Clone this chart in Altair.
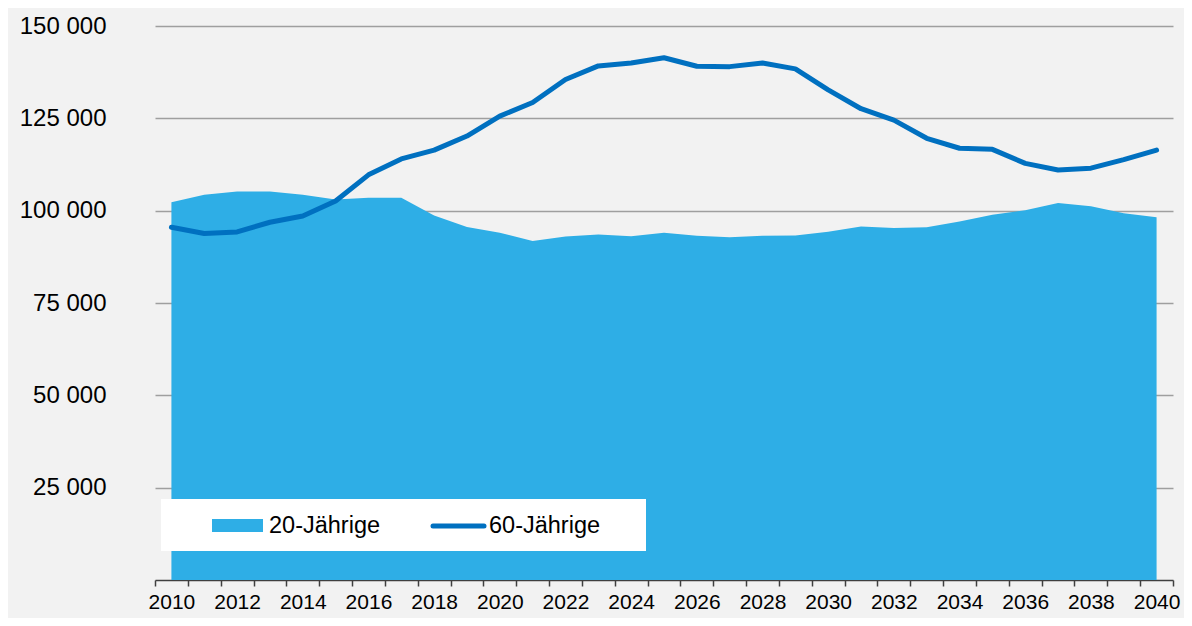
import altair as alt
import pandas as pd

years = list(range(2010, 2041))
age20 = [102300, 104300, 105200, 105200, 104300, 103000, 103500, 103500, 98700, 95600,
         94000, 91800, 93000, 93550, 93100, 94000, 93200, 92800, 93200, 93300,
         94300, 95700, 95300, 95500, 97100, 98900, 100100, 102100, 101200, 99300, 98200]
age60 = [95500, 93800, 94250, 96860, 98560, 102600, 109700, 114000, 116400, 120200,
         125600, 129300, 135500, 139200, 140000, 141400, 139100, 139000, 140000, 138400,
         132700, 127600, 124500, 119600, 116900, 116600, 112800, 111000, 111500, 113800, 116400]
series_names = ["20-Jährige", "60-Jährige"]
y_ticks = [25000, 50000, 75000, 100000, 125000, 150000]

df = pd.DataFrame({"year": years, "a20": age20, "a60": age60})

FONT = "Liberation Sans"
AREA_C = "#2eaee6"
LINE_C = "#0070c0"

W, H = 1018, 554

xscale = alt.Scale(domain=[2009.5, 2040.5], nice=False, zero=False)
yscale = alt.Scale(domain=[0, 150000], nice=False)

yaxis = alt.Axis(values=y_ticks, domain=False, ticks=False, grid=True,
                 gridColor="#9f9f9f", gridWidth=1.5, labelFont=FONT, labelFontSize=24,
                 labelColor="#000000", labelPadding=49, title=None,
                 labelExpr="replace(format(datum.value, ','), ',', ' ')")

area = alt.Chart(df).mark_area(color=AREA_C, opacity=1).encode(
    x=alt.X("year:Q", scale=xscale,
            axis=alt.Axis(values=[y - 0.5 for y in years] + [2040.5], labels=False,
                          ticks=True, tickSize=6, tickColor="#404040", tickWidth=1.5,
                          domain=True, domainColor="#404040", domainWidth=1.5,
                          grid=False, title=None, orient="bottom")),
    y=alt.Y("a20:Q", scale=yscale, axis=yaxis),
)

line = alt.Chart(df).mark_line(color=LINE_C, strokeWidth=5, strokeCap="round",
                               strokeJoin="round").encode(
    x=alt.X("year:Q", scale=xscale,
            axis=alt.Axis(values=[y for y in years if y % 2 == 0], ticks=False,
                          tickSize=0, domain=False, grid=False, labelFont=FONT,
                          labelFontSize=21, labelColor="#000000", labelPadding=11,
                          format="d", title=None, orient="bottom")),
    y=alt.Y("a60:Q", scale=yscale),
)

one = pd.DataFrame({"k": [0]})
LY = 473
leg_box = alt.Chart(one).mark_rect(color="white").encode(
    x=alt.value(6), x2=alt.value(491), y=alt.value(LY), y2=alt.value(LY + 52))
leg_sw = alt.Chart(one).mark_rect(color=AREA_C).encode(
    x=alt.value(57), x2=alt.value(108), y=alt.value(LY + 20), y2=alt.value(LY + 33))
leg_t1 = alt.Chart(one).mark_text(text=series_names[0], font=FONT, fontSize=23.5,
                                  align="left", baseline="middle", color="#000000").encode(
    x=alt.value(114), y=alt.value(LY + 27))
leg_ln = alt.Chart(one).mark_rule(color=LINE_C, strokeWidth=5, strokeCap="round").encode(
    x=alt.value(278), x2=alt.value(329), y=alt.value(LY + 27))
leg_t2 = alt.Chart(one).mark_text(text=series_names[1], font=FONT, fontSize=23.5,
                                  align="left", baseline="middle", color="#000000").encode(
    x=alt.value(334), y=alt.value(LY + 27))

chart = alt.layer(area, line, leg_box, leg_sw, leg_t1, leg_ln, leg_t2).resolve_axis(
    x="independent").properties(
    width=W, height=H,
    autosize=alt.AutoSizeParams(type="none"),
    padding={"left": 147, "top": 18, "right": 1176 - 147 - W, "bottom": 610 - 18 - H},
    background="#f2f2f2",
).configure_view(stroke=None)

chart.save("out.html", embed_options={"renderer": "svg", "actions": False})
